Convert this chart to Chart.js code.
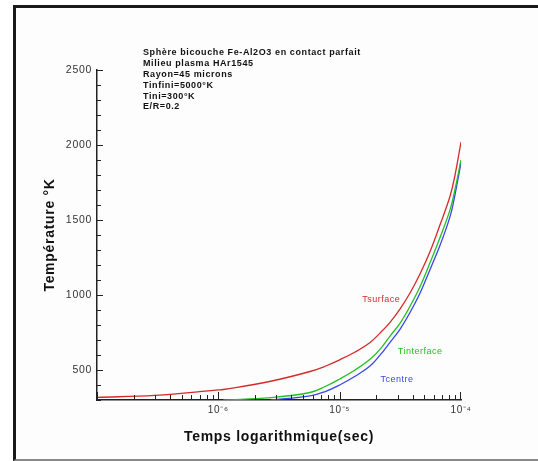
<!DOCTYPE html>
<html>
<head>
<meta charset="utf-8">
<script src="https://cdn.jsdelivr.net/npm/chart.js@4/dist/chart.umd.min.js"></script>
<style>
  html, body { margin: 0; padding: 0; background: #fff; }
  #wrap { position: relative; width: 538px; height: 461px; overflow: hidden; }
  #frame {
    position: absolute; left: 13px; top: 5px; width: 540px; height: 451px;
    border-left: 3px solid #1a1a1a; border-top: 3px solid #1a1a1a;
    border-bottom: 2px solid #8a8a8a; background: #fdfdfd;
  }
  #chart { position: absolute; left: 0; top: 0; }
</style>
</head>
<body>
<div id="wrap">
  <div id="frame"></div>
  <canvas id="chart" width="538" height="461"></canvas>
</div>
<script>
// --- data ---
const times = [1e-7, 3e-7, 1e-6, 1.1e-6, 2.7e-6, 5.7e-6, 7.6e-6, 1e-5, 1.34e-5, 1.78e-5,
  2.15e-5, 2.6e-5, 3.15e-5, 3.8e-5, 4.6e-5, 5.56e-5, 6.73e-5, 8.13e-5, 8.93e-5, 1e-4];
const tSurface = [318, 331, 367, 370, 425, 490, 525, 568, 620, 684,
  746, 818, 908, 1013, 1142, 1290, 1470, 1660, 1800, 2020];
const tInterface = [null, null, null, 300, 316, 350, 390, 440, 500, 571,
  637, 726, 813, 925, 1057, 1216, 1385, 1569, 1705, 1901];
const tCentre = [null, null, null, null, 300, 327, 356, 400, 458, 526,
  599, 684, 773, 883, 1013, 1170, 1333, 1524, 1670, 1881];

const xLabelTicks = [1e-6, 1e-5, 1e-4];
const yLabelTicks = [500, 1000, 1500, 2000, 2500];

const infoLines = [
  "Sphère bicouche Fe-Al2O3 en contact parfait",
  "Milieu plasma HAr1545",
  "Rayon=45 microns",
  "Tinfini=5000°K",
  "Tini=300°K",
  "E/R=0.2",
];

// curve labels placed in data coordinates: [text, time, temperature, colour]
const curveLabels = [
  ["Tsurface", 2.2e-5, 970, "#d42a2a"],
  ["Tinterface", 4.6e-5, 624, "#22c022"],
  ["Tcentre", 2.97e-5, 438, "#3a46e6"],
];

const SUP = { "-": "⁻", "0": "⁰", "1": "¹", "2": "²", "3": "³", "4": "⁴", "5": "⁵", "6": "⁶", "7": "⁷", "8": "⁸", "9": "⁹" };
function pow10Label(v) {
  const e = String(Math.round(Math.log10(v)));
  return "10" + e.split("").map((c) => SUP[c]).join("");
}

// --- inward tick marks + annotation text ---
const decorPlugin = {
  id: "decor",
  beforeDraw(chart) {
    chart.ctx.letterSpacing = "0.7px";
  },
  afterDraw(chart) {
    const { ctx, chartArea: a } = chart;
    const xs = chart.scales.x;
    const ys = chart.scales.y;
    ctx.save();
    ctx.strokeStyle = "#222";
    ctx.lineWidth = 1;
    ctx.beginPath();
    // x: minor ticks 1..9 per decade
    for (let e = -7; e < -4; e++) {
      for (let k = 1; k <= 9; k++) {
        const px = Math.round(xs.getPixelForValue(k * Math.pow(10, e))) + 0.5;
        const len = k === 1 ? 8 : 5;
        ctx.moveTo(px, a.bottom);
        ctx.lineTo(px, a.bottom - len);
      }
    }
    const pxEnd = Math.round(xs.getPixelForValue(1e-4)) - 0.5;
    ctx.moveTo(pxEnd, a.bottom);
    ctx.lineTo(pxEnd, a.bottom - 8);
    // y: every 100
    for (let v = 300; v <= 2500; v += 100) {
      const py = Math.round(ys.getPixelForValue(v)) + 0.5;
      const len = v % 500 === 0 ? 6 : 4;
      ctx.moveTo(a.left, py);
      ctx.lineTo(a.left + len, py);
    }
    ctx.stroke();

    // info block
    ctx.fillStyle = "#111";
    ctx.font = "bold 9px 'Liberation Sans', Arial, sans-serif";
    ctx.letterSpacing = "0.6px";
    ctx.textBaseline = "middle";
    ctx.textAlign = "left";
    infoLines.forEach((line, i) => {
      ctx.fillText(line, a.left + 46, 53 + i * 10.8);
    });

    // curve labels
    ctx.font = "9px 'Liberation Sans', Arial, sans-serif";
    ctx.letterSpacing = "0.5px";
    ctx.textAlign = "center";
    curveLabels.forEach(([txt, t, v, col]) => {
      ctx.fillStyle = col;
      ctx.fillText(txt, xs.getPixelForValue(t), ys.getPixelForValue(v));
    });
    ctx.restore();
  },
};

const FONT = "'Liberation Sans', Arial, sans-serif";

new Chart(document.getElementById("chart"), {
  type: "line",
  data: {
    labels: times,
    datasets: [
      { label: "Tsurface", data: tSurface, borderColor: "#d42a2a" },
      { label: "Tinterface", data: tInterface, borderColor: "#22c022" },
      { label: "Tcentre", data: tCentre, borderColor: "#3a46e6" },
    ].map((d) => ({
      ...d,
      borderWidth: 1.3,
      pointRadius: 0,
      tension: 0.4,
      spanGaps: false,
      fill: false,
    })),
  },
  options: {
    responsive: false,
    animation: false,
    layout: { padding: { left: 0, top: 70, right: 77, bottom: 0 } },
    plugins: { legend: { display: false }, tooltip: { enabled: false } },
    scales: {
      x: {
        type: "logarithmic",
        min: 1e-7,
        max: 1e-4,
        afterBuildTicks: (s) => { s.ticks = xLabelTicks.map((v) => ({ value: v })); },
        afterFit: (s) => { s.height = 61; },
        grid: { display: false, drawTicks: false },
        border: { display: true, color: "#222", width: 1.5 },
        ticks: {
          autoSkip: false,
          maxRotation: 0,
          padding: 4,
          color: "#333",
          font: { family: FONT, size: 10 },
          callback: (v) => pow10Label(v),
        },
        title: {
          display: true,
          text: "Temps logarithmique(sec)",
          color: "#111",
          font: { family: FONT, size: 14, weight: "bold" },
          padding: { top: 0, bottom: 15 },
        },
      },
      y: {
        min: 300,
        max: 2500,
        afterBuildTicks: (s) => { s.ticks = yLabelTicks.map((v) => ({ value: v })); },
        afterFit: (s) => { s.width = 97; },
        grid: { display: false, drawTicks: false },
        border: { display: true, color: "#222", width: 1.5 },
        ticks: {
          padding: 5,
          color: "#333",
          font: { family: FONT, size: 10.5 },
          callback: (v) => String(v),
        },
        title: {
          display: true,
          text: "Température °K",
          color: "#111",
          font: { family: FONT, size: 14, weight: "bold" },
          padding: { top: 42, bottom: 0 },
        },
      },
    },
  },
  plugins: [decorPlugin],
});
</script>
</body>
</html>
